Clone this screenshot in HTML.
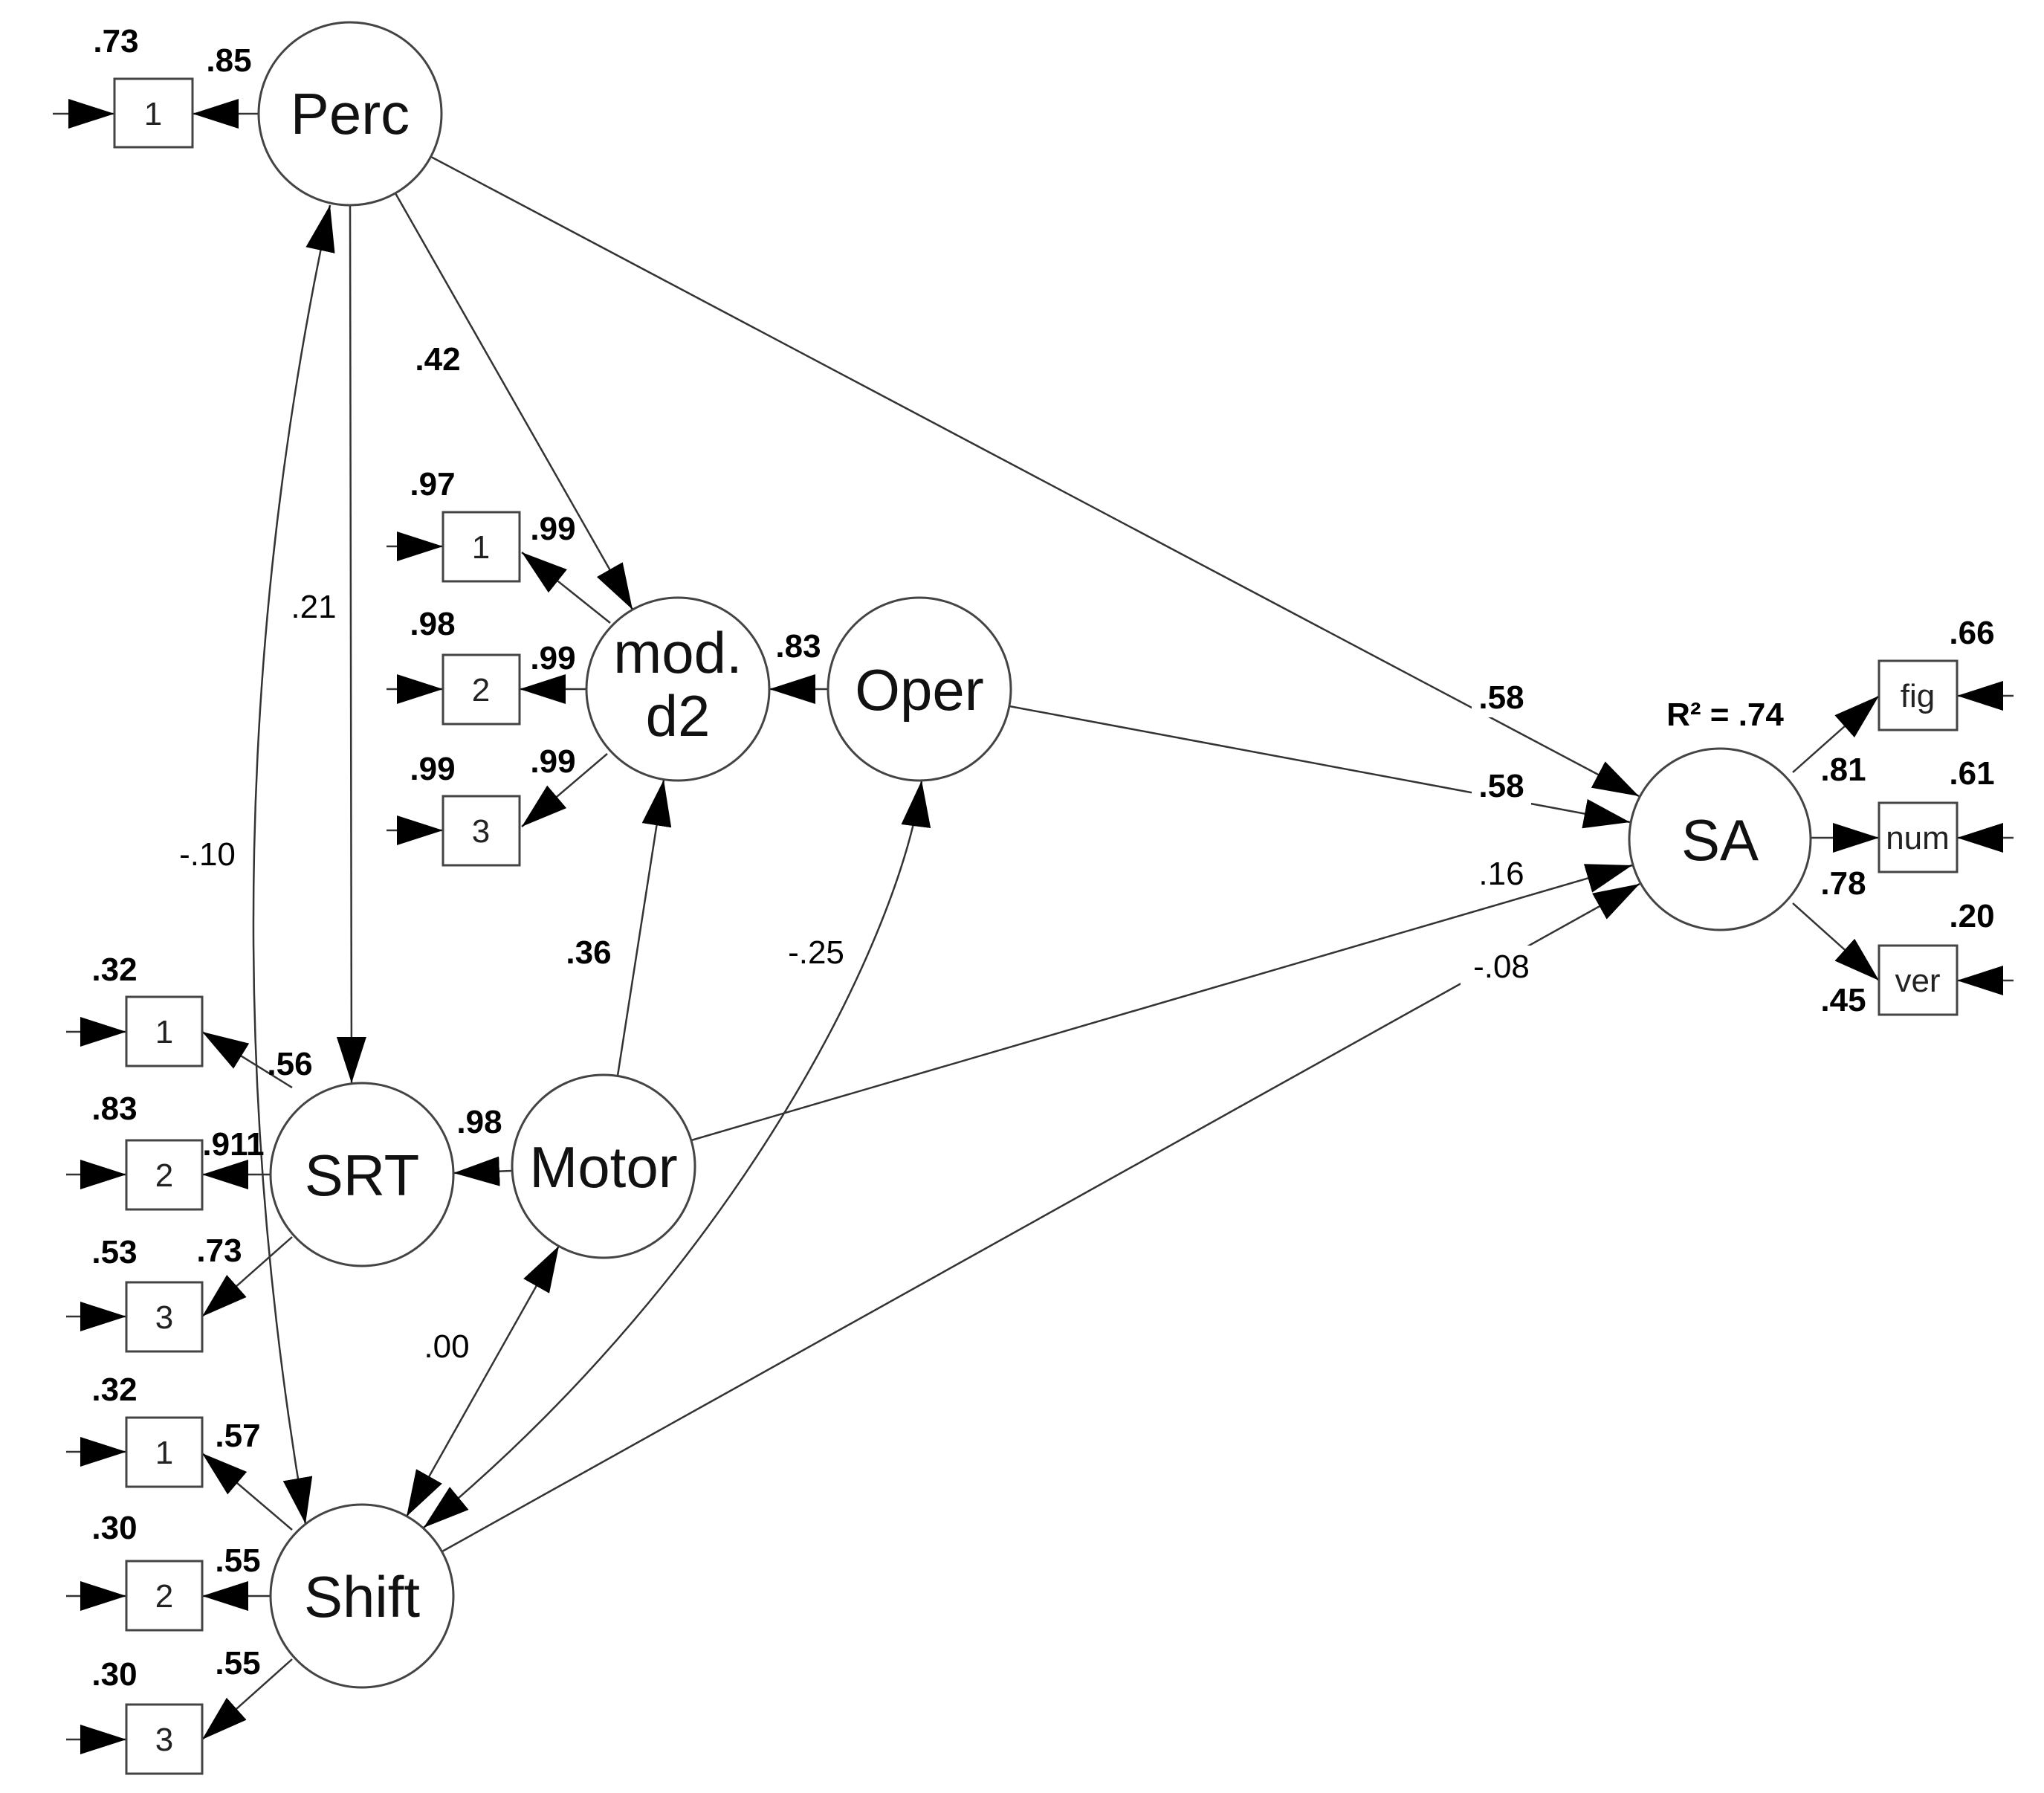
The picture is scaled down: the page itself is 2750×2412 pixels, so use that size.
<!DOCTYPE html>
<html><head><meta charset="utf-8"><style>
html,body{margin:0;padding:0;background:#fff;}
svg{display:block;}
.n{font-family:"Liberation Sans",sans-serif;font-size:78px;fill:#111;text-anchor:middle;}
.b{font-family:"Liberation Sans",sans-serif;font-size:44px;fill:#222;text-anchor:middle;}
.l{font-family:"Liberation Sans",sans-serif;font-size:44px;font-weight:bold;fill:#000;text-anchor:middle;}
.r{font-family:"Liberation Sans",sans-serif;font-size:44px;fill:#000;text-anchor:middle;}
</style></head><body>
<svg width="2750" height="2412" viewBox="0 0 2750 2412" xmlns="http://www.w3.org/2000/svg">
<defs>
<marker id="a" markerUnits="userSpaceOnUse" markerWidth="64" markerHeight="40" refX="62" refY="20" orient="auto">
<path d="M0,0 L62,20 L0,40 Z" fill="#000"/></marker>
<marker id="s" markerUnits="userSpaceOnUse" markerWidth="64" markerHeight="40" refX="2" refY="20" orient="auto">
<path d="M64,0 L2,20 L64,40 Z" fill="#000"/></marker>
</defs>
<g stroke="#333" stroke-width="2.5" fill="none">
<!-- structural paths -->
<line x1="532" y1="260" x2="851" y2="820" marker-end="url(#a)"/>
<line x1="471" y1="276" x2="473" y2="1457" marker-end="url(#a)"/>
<line x1="580" y1="211" x2="2205" y2="1071" marker-end="url(#a)"/>
<line x1="1358" y1="950" x2="2193" y2="1106" marker-end="url(#a)"/>
<line x1="930" y1="1534" x2="2196" y2="1164" marker-end="url(#a)"/>
<line x1="595" y1="2087" x2="2206" y2="1189" marker-end="url(#a)"/>
<line x1="1114" y1="927" x2="1035" y2="927" marker-end="url(#a)"/>
<line x1="689" y1="1575" x2="610" y2="1578" marker-end="url(#a)"/>
<line x1="831" y1="1447" x2="893" y2="1049" marker-end="url(#a)"/>
<line x1="752" y1="1676" x2="547" y2="2040" marker-start="url(#s)" marker-end="url(#a)"/>
<path d="M1240,1050 C1215,1250 1000,1700 570,2055" marker-start="url(#s)" marker-end="url(#a)"/>
<path d="M444,276 Q256,1150 411,2050" marker-start="url(#s)" marker-end="url(#a)"/>
<!-- indicators -->
<line x1="348" y1="153" x2="259" y2="153" marker-end="url(#a)"/>
<line x1="71" y1="153" x2="154" y2="153" marker-end="url(#a)"/>
<line x1="821" y1="838" x2="702" y2="743" marker-end="url(#a)"/>
<line x1="789" y1="927" x2="699" y2="927" marker-end="url(#a)"/>
<line x1="817" y1="1014" x2="702" y2="1112" marker-end="url(#a)"/>
<line x1="520" y1="735" x2="596" y2="735" marker-end="url(#a)"/>
<line x1="520" y1="927" x2="596" y2="927" marker-end="url(#a)"/>
<line x1="520" y1="1117" x2="596" y2="1117" marker-end="url(#a)"/>
<line x1="393" y1="1463" x2="272" y2="1388" marker-end="url(#a)"/>
<line x1="364" y1="1580" x2="272" y2="1580" marker-end="url(#a)"/>
<line x1="393" y1="1664" x2="272" y2="1771" marker-end="url(#a)"/>
<line x1="393" y1="2058" x2="272" y2="1955" marker-end="url(#a)"/>
<line x1="364" y1="2147" x2="272" y2="2147" marker-end="url(#a)"/>
<line x1="393" y1="2232" x2="272" y2="2340" marker-end="url(#a)"/>
<line x1="89" y1="1388" x2="170" y2="1388" marker-end="url(#a)"/>
<line x1="89" y1="1580" x2="170" y2="1580" marker-end="url(#a)"/>
<line x1="89" y1="1771" x2="170" y2="1771" marker-end="url(#a)"/>
<line x1="89" y1="1953" x2="170" y2="1953" marker-end="url(#a)"/>
<line x1="89" y1="2147" x2="170" y2="2147" marker-end="url(#a)"/>
<line x1="89" y1="2340" x2="170" y2="2340" marker-end="url(#a)"/>
<line x1="2412" y1="1039" x2="2528" y2="936" marker-end="url(#a)"/>
<line x1="2437" y1="1127" x2="2528" y2="1127" marker-end="url(#a)"/>
<line x1="2412" y1="1215" x2="2528" y2="1319" marker-end="url(#a)"/>
<line x1="2709" y1="936" x2="2633" y2="936" marker-end="url(#a)"/>
<line x1="2709" y1="1127" x2="2633" y2="1127" marker-end="url(#a)"/>
<line x1="2709" y1="1319" x2="2633" y2="1319" marker-end="url(#a)"/>
</g>
<!-- nodes -->
<g stroke="#444" stroke-width="3" fill="#fff">
<circle cx="471" cy="153" r="123"/>
<circle cx="912" cy="927" r="123"/>
<circle cx="1237" cy="927" r="123"/>
<circle cx="2314" cy="1129" r="122"/>
<circle cx="487" cy="1580" r="123"/>
<circle cx="812" cy="1569" r="123"/>
<circle cx="487" cy="2147" r="123"/>
<rect x="154" y="106" width="105" height="92"/>
<rect x="596" y="689" width="103" height="93"/>
<rect x="596" y="881" width="103" height="93"/>
<rect x="596" y="1071" width="103" height="93"/>
<rect x="170" y="1341" width="102" height="93"/>
<rect x="170" y="1534" width="102" height="93"/>
<rect x="170" y="1725" width="102" height="93"/>
<rect x="170" y="1907" width="102" height="93"/>
<rect x="170" y="2100" width="102" height="93"/>
<rect x="170" y="2293" width="102" height="93"/>
<rect x="2528" y="889" width="105" height="93"/>
<rect x="2528" y="1080" width="105" height="93"/>
<rect x="2528" y="1272" width="105" height="93"/>
</g>
<text class="n" x="471" y="180">Perc</text>
<text class="n" x="912" y="905">mod.</text>
<text class="n" x="912" y="990">d2</text>
<text class="n" x="1237" y="955">Oper</text>
<text class="n" x="2314" y="1157">SA</text>
<text class="n" x="487" y="1608">SRT</text>
<text class="n" x="812" y="1597">Motor</text>
<text class="n" x="487" y="2175">Shift</text>
<g class="b">
<text x="206" y="168">1</text>
<text x="647" y="751">1</text><text x="647" y="943">2</text><text x="647" y="1133">3</text>
<text x="221" y="1403">1</text><text x="221" y="1596">2</text><text x="221" y="1787">3</text>
<text x="221" y="1969">1</text><text x="221" y="2162">2</text><text x="221" y="2355">3</text>
<text x="2580" y="951">fig</text><text x="2580" y="1142">num</text><text x="2580" y="1334">ver</text>
</g>
<!-- label backgrounds on SA paths -->
<g fill="#fff">
<rect x="1980" y="910" width="80" height="55"/>
<rect x="1980" y="1030" width="80" height="55"/>
<rect x="1980" y="1148" width="80" height="55"/>
<rect x="1965" y="1272" width="100" height="55"/>
</g>
<g class="l">
<text x="156" y="70">.73</text><text x="308" y="96">.85</text>
<text x="589" y="498">.42</text>
<text x="582" y="666">.97</text><text x="744" y="726">.99</text>
<text x="582" y="854">.98</text><text x="744" y="900">.99</text>
<text x="582" y="1049">.99</text><text x="744" y="1039">.99</text>
<text x="1074" y="884">.83</text>
<text x="154" y="1319">.32</text><text x="390" y="1446">.56</text>
<text x="154" y="1506">.83</text><text x="314" y="1554">.911</text>
<text x="154" y="1699">.53</text><text x="295" y="1697">.73</text>
<text x="645" y="1524">.98</text><text x="792" y="1296">.36</text>
<text x="154" y="1884">.32</text><text x="320" y="1946">.57</text>
<text x="154" y="2070">.30</text><text x="320" y="2114">.55</text>
<text x="154" y="2267">.30</text><text x="320" y="2252">.55</text>
<text x="2020" y="953">.58</text><text x="2020" y="1072">.58</text>
<text x="2321" y="976">R² = .74</text>
<text x="2653" y="866">.66</text><text x="2480" y="1050">.81</text>
<text x="2653" y="1055">.61</text><text x="2480" y="1203">.78</text>
<text x="2653" y="1247">.20</text><text x="2480" y="1360">.45</text>
</g>
<g class="r">
<text x="422" y="831">.21</text>
<text x="279" y="1164">-.10</text>
<text x="1098" y="1296">-.25</text>
<text x="601" y="1826">.00</text>
<text x="2020" y="1190">.16</text>
<text x="2020" y="1315">-.08</text>
</g>
</svg>
</body></html>
